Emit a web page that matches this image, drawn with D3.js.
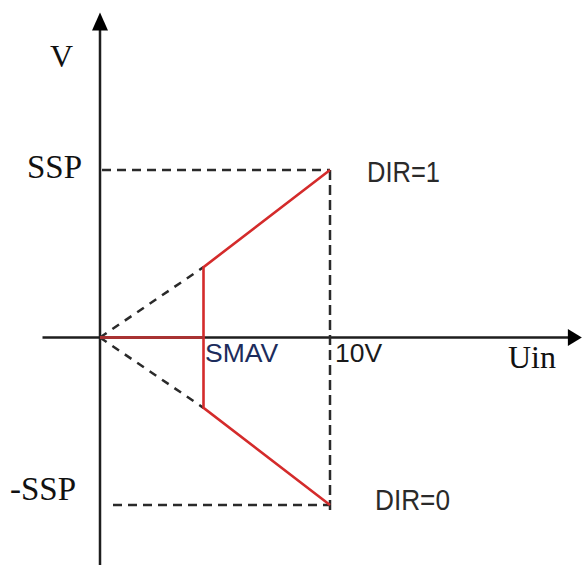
<!DOCTYPE html>
<html>
<head>
<meta charset="utf-8">
<script src="https://cdn.jsdelivr.net/npm/d3@7"></script>
<style>
  body { margin: 0; background: #fff; }
  svg { display: block; }
</style>
</head>
<body>
<div id="container"></div>
<script>
/* CONSTANTS AND GLOBALS */
const width = 587,
  height = 565;

/* DATA */
// x in volts (Uin), y in units of SSP
const smav = 4.5,
  uMax = 10,
  knee = 0.42;

const upperCurve = [[0, 0], [smav, 0], [smav, knee], [uMax, 1]];
const lowerCurve = [[smav, 0], [smav, -knee], [uMax, -1]];
const guideUp = [[0, 0], [smav, knee]];
const guideDown = [[0, 0], [smav, -knee]];

const xAxisExtent = [-2.5, 20.95];
const yAxisExtent = [-1.36, 1.94];

const yLabels = [
  {text: "SSP", v: 1, x: 27, dy: 8},
  {text: "-SSP", v: -1, x: 10, dy: -5}
];
const dirLabels = [
  {text: "DIR=1", v: 1, x: 367, dy: 12, len: 73},
  {text: "DIR=0", v: -1, x: 375, dy: 5, len: 75}
];

/* SCALES */
const xScale = d3.scaleLinear()
  .domain([0, 10])
  .range([100, 330]);

const yScale = d3.scaleLinear()
  .domain([-1, 1])
  .range([505, 170]);

/* HTML ELEMENTS */
const svg = d3.select("#container")
  .append("svg")
  .attr("width", width)
  .attr("height", height)
  .style("background-color", "#fff");

const line = d3.line()
  .x(d => xScale(d[0]))
  .y(d => yScale(d[1]));

const axisColor = "#1e1e1e";
const x0 = xScale(0), y0 = yScale(0);

// axes
svg.append("line")
  .attr("x1", xScale(xAxisExtent[0])).attr("x2", xScale(xAxisExtent[1]) - 10)
  .attr("y1", y0).attr("y2", y0)
  .attr("stroke", axisColor).attr("stroke-width", 2.5);

svg.append("line")
  .attr("x1", x0).attr("x2", x0)
  .attr("y1", yScale(yAxisExtent[0])).attr("y2", yScale(yAxisExtent[1]) + 12)
  .attr("stroke", axisColor).attr("stroke-width", 2.5);

// arrow heads
const xt = xScale(xAxisExtent[1]), yt = yScale(yAxisExtent[1]);
svg.append("path")
  .attr("d", `M${xt},${y0} L${xt - 14},${y0 - 8.5} L${xt - 14},${y0 + 8.5} Z`)
  .attr("fill", "#000");
svg.append("path")
  .attr("d", `M${x0},${yt} L${x0 - 8},${yt + 18} L${x0 + 8},${yt + 18} Z`)
  .attr("fill", "#000");

// dashed guides
const guides = svg.append("g")
  .attr("stroke", "#2a2a2a")
  .attr("stroke-width", 2.5)
  .attr("stroke-dasharray", "9,6")
  .attr("fill", "none");

guides.append("line")
  .attr("x1", x0 + 2).attr("x2", xScale(uMax))
  .attr("y1", yScale(1)).attr("y2", yScale(1));
guides.append("line")
  .attr("x1", x0 + 13).attr("x2", xScale(uMax))
  .attr("y1", yScale(-1)).attr("y2", yScale(-1));
guides.append("line")
  .attr("x1", xScale(uMax)).attr("x2", xScale(uMax))
  .attr("y1", yScale(1)).attr("y2", yScale(-1) + 6)
  .attr("stroke-dasharray", "10,5");

guides.selectAll("path.diag")
  .data([guideUp, guideDown])
  .join("path")
  .attr("class", "diag")
  .attr("d", line)
  .attr("stroke-dasharray", "8,7");

// red characteristic
svg.selectAll("path.curve")
  .data([upperCurve, lowerCurve])
  .join("path")
  .attr("class", "curve")
  .attr("d", line)
  .attr("fill", "none")
  .attr("stroke", "#d42b2b")
  .attr("stroke-width", 2.6)
  .attr("stroke-linejoin", "miter");

// red segment over the axis looks darker
svg.append("path")
  .attr("d", line([[0, 0], [smav, 0]]))
  .attr("stroke", "#a83232")
  .attr("stroke-width", 3);

// labels
const serif = "'Liberation Serif', 'DejaVu Serif', serif";
const sans = "'Liberation Sans', Arial, sans-serif";

svg.append("text")
  .attr("x", 50).attr("y", 67)
  .attr("font-family", serif).attr("font-size", 32)
  .attr("fill", "#111")
  .text("V");

svg.selectAll("text.ylab")
  .data(yLabels)
  .join("text")
  .attr("class", "ylab")
  .attr("x", d => d.x)
  .attr("y", d => yScale(d.v) + d.dy)
  .attr("font-family", serif).attr("font-size", 33)
  .attr("fill", "#111")
  .text(d => d.text);

svg.selectAll("text.dir")
  .data(dirLabels)
  .join("text")
  .attr("class", "dir")
  .attr("x", d => d.x)
  .attr("y", d => yScale(d.v) + d.dy)
  .attr("font-family", sans).attr("font-size", 29)
  .attr("textLength", d => d.len)
  .attr("lengthAdjust", "spacingAndGlyphs")
  .attr("fill", "#2a2a2a")
  .text(d => d.text);

svg.append("text")
  .attr("x", xScale(smav) + 1.5).attr("y", 362)
  .attr("font-family", sans).attr("font-size", 26.5)
  .attr("fill", "#1c2c5c")
  .text("SMAV");

svg.append("text")
  .attr("x", xScale(uMax) + 5).attr("y", 362)
  .attr("font-family", sans).attr("font-size", 26.5)
  .attr("fill", "#1a1a1a")
  .text("10V");

svg.append("text")
  .attr("x", 508).attr("y", 368)
  .attr("font-family", serif).attr("font-size", 32)
  .attr("fill", "#111")
  .text("Uin");
</script>
</body>
</html>
